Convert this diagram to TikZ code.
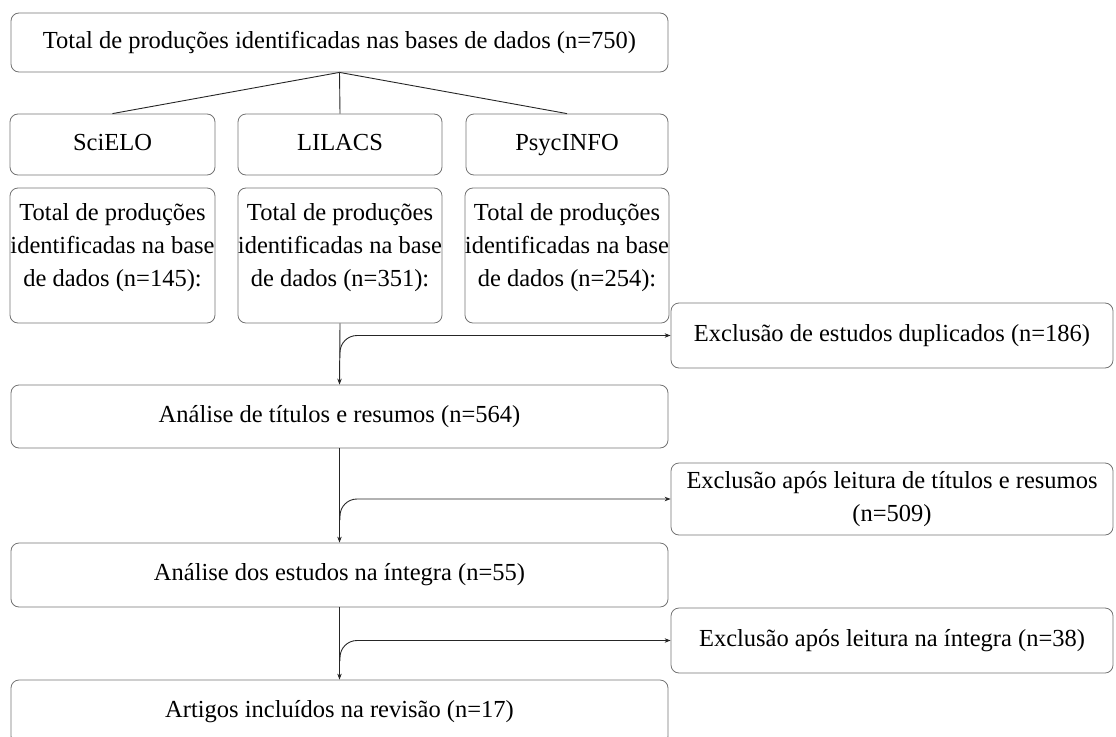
\documentclass[tikz,border=0pt]{standalone}
\usepackage{fontspec}
\setmainfont{Liberation Serif}
\usetikzlibrary{arrows.meta,calc}
\newcommand{\upstack}[1]{\raisebox{9pt}[\height][\depth]{\def\arraystretch{1.0}\setlength{\tabcolsep}{0pt}\begin{tabular}{c}#1\end{tabular}}}
\tikzset{
  box/.style={draw=black!55, line width=0.8pt, rounded corners=8pt, align=center, inner sep=0pt, font=\fontsize{24.5}{33}\selectfont},
  oneline/.style={text height=17pt, text depth=5.5pt},
  conn/.style={draw=black!85, line width=0.9pt},
  arr/.style={conn, -{Stealth[length=6pt,width=4.5pt]}},
}
\begin{document}
\begin{tikzpicture}[x=1pt,y=-1pt]
\useasboundingbox (0,0) rectangle (1116,736);
\clip (0,0) rectangle (1116,736);
\node[box, oneline, minimum width=657pt, minimum height=59pt] (top) at (339.5,42.5) {Total de produções identificadas nas bases de dados (n=750)};
\node[box, oneline, minimum width=205pt, minimum height=61pt] (sci) at (112.5,144.5) {SciELO};
\node[box, oneline, minimum width=204pt, minimum height=61pt] (lil) at (340,144.5) {LILACS};
\node[box, oneline, minimum width=202pt, minimum height=61pt] (psy) at (567,144.5) {PsycINFO};
\node[box, minimum width=205pt, minimum height=135pt] (sciT) at (112.5,255.5) {\upstack{Total de produções\\identificadas na base\\de dados (n=145):}};
\node[box, minimum width=204pt, minimum height=135pt] (lilT) at (340,255.5) {\upstack{Total de produções\\identificadas na base\\de dados (n=351):}};
\node[box, minimum width=202pt, minimum height=135pt] (psyT) at (567,255.5) {\upstack{Total de produções\\identificadas na base\\de dados (n=254):}};
\node[box, oneline, minimum width=442pt, minimum height=65pt] (ex1) at (892,335.5) {Exclusão de estudos duplicados (n=186)};
\node[box, oneline, minimum width=657pt, minimum height=63pt] (ana) at (339.5,416.5) {Análise de títulos e resumos (n=564)};
\node[box, minimum width=442pt, minimum height=72pt] (ex2) at (892,499) {Exclusão após leitura de títulos e resumos\\(n=509)};
\node[box, oneline, minimum width=657pt, minimum height=64pt] (est) at (339.5,575) {Análise dos estudos na íntegra (n=55)};
\node[box, oneline, minimum width=442pt, minimum height=65pt] (ex3) at (892,640.5) {Exclusão após leitura na íntegra (n=38)};
\node[box, oneline, minimum width=657pt, minimum height=64pt] (art) at (339.5,712) {Artigos incluídos na revisão (n=17)};
\draw[conn] (top.south) -- (sci.north);
\draw[conn] (top.south) -- (lil.north);
\draw[conn] (top.south) -- (psy.north);
\draw[arr] (lilT.south) -- (ana.north);
\draw[arr] (ana.south) -- (est.north);
\draw[arr] (est.south) -- (art.north);
\coordinate (b1) at (340,358);
\coordinate (b2) at (340,520);
\coordinate (b3) at (340,661);
\draw[arr, rounded corners=17pt] (b1) |- (ex1.west);
\draw[arr, rounded corners=17pt] (b2) |- (ex2.west);
\draw[arr, rounded corners=17pt] (b3) |- (ex3.west);
\end{tikzpicture}
\end{document}
